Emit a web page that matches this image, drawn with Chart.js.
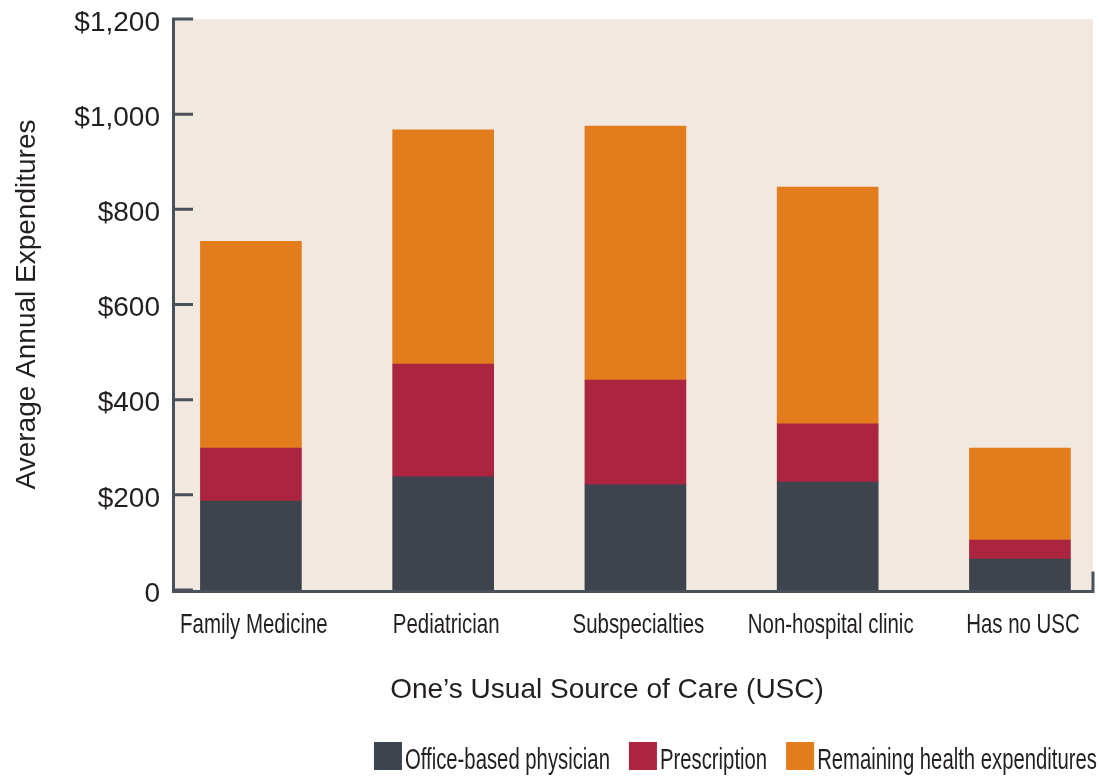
<!DOCTYPE html>
<html>
<head>
<meta charset="utf-8">
<script src="https://cdn.jsdelivr.net/npm/chart.js@4.4.1/dist/chart.umd.min.js"></script>
<style>
  html, body { margin: 0; padding: 0; background: #fff; }
  #wrap { width: 1099px; height: 777px; }
</style>
</head>
<body>
<div id="wrap"><canvas id="chart"></canvas></div>
<script>
// data
const categories = ['Family Medicine', 'Pediatrician', 'Subspecialties', 'Non-hospital clinic', 'Has no USC'];
const officeBased = [187, 238, 221, 227, 65];
const prescription = [111, 237, 220, 122, 40];
const remaining = [435, 492, 534, 498, 193];
const yTicks = [0, 200, 400, 600, 800, 1000, 1200];
const xTitle = 'One’s Usual Source of Care (USC)';

const SANS = '"Liberation Sans", Arial, Helvetica, sans-serif';
const TEXT = '#231f20';
const AXIS = '#4b515b';

function points(values) {
  return values.map((v, i) => ({ x: i, y: v }));
}

// condensed look: draw Liberation Sans squeezed horizontally
function narrowText(ctx, text, x, y, size, squeeze, align) {
  ctx.save();
  ctx.font = size + 'px ' + SANS;
  ctx.fillStyle = TEXT;
  ctx.textAlign = align;
  ctx.textBaseline = 'alphabetic';
  ctx.translate(x, y);
  ctx.scale(squeeze, 1);
  ctx.fillText(text, 0, 0);
  ctx.restore();
}

// plot background, axis lines with inward ticks, category labels, legend
const frame = {
  id: 'frame',
  beforeDraw(chart) {
    const { ctx, chartArea: a } = chart;
    ctx.save();
    ctx.fillStyle = '#f1e9df';
    ctx.fillRect(a.left, a.top, a.right - a.left, a.bottom - a.top);
    ctx.restore();
  },
  afterDatasetsDraw(chart) {
    const { ctx, chartArea: a } = chart;
    const y = chart.scales.y;
    const base = y.getPixelForValue(0) + 1.5;
    ctx.save();
    ctx.strokeStyle = AXIS;
    ctx.lineWidth = 3;
    ctx.beginPath();
    ctx.moveTo(a.left - 0.5, a.top);
    ctx.lineTo(a.left - 0.5, base + 1.5);
    ctx.moveTo(a.left - 2, base);
    ctx.lineTo(a.right + 1.5, base);
    ctx.moveTo(a.right, base);
    ctx.lineTo(a.right, base - 20);
    yTicks.forEach(t => {
      const py = y.getPixelForValue(t);
      ctx.moveTo(a.left - 2, py);
      ctx.lineTo(a.left + 19, py);
    });
    ctx.stroke();
    ctx.restore();
  },
  afterDraw(chart) {
    const { ctx } = chart;
    const x = chart.scales.x;
    const base = chart.scales.y.getPixelForValue(0);
    categories.forEach((c, i) => {
      narrowText(ctx, c, x.getPixelForValue(i) + 3, base + 43, 28, 0.73, 'center');
    });
    narrowText(ctx, xTitle, 607, 698, 28, 1, 'center');

    // legend, right aligned
    const size = 29, squeeze = 0.70, box = 28, gapIn = 3, gapOut = 19;
    ctx.save();
    ctx.font = size + 'px ' + SANS;
    const items = chart.data.datasets.map(ds => ({
      label: ds.label,
      color: ds.backgroundColor,
      w: ctx.measureText(ds.label).width * squeeze
    }));
    ctx.restore();
    const total = items.reduce((s, it) => s + box + gapIn + it.w, 0) + gapOut * (items.length - 1);
    let lx = 1097 - total;
    const boxTop = 742;
    items.forEach(it => {
      ctx.fillStyle = it.color;
      ctx.fillRect(lx, boxTop, box, box);
      narrowText(ctx, it.label, lx + box + gapIn, boxTop + 27, size, squeeze, 'left');
      lx += box + gapIn + it.w + gapOut;
    });
  }
};

const ctx = document.getElementById('chart').getContext('2d');
new Chart(ctx, {
  type: 'bar',
  data: {
    datasets: [
      { label: 'Office-based physician', data: points(officeBased), backgroundColor: '#3d444e' },
      { label: 'Prescription', data: points(prescription), backgroundColor: '#ab2540' },
      { label: 'Remaining health expenditures', data: points(remaining), backgroundColor: '#e27c1c' }
    ]
  },
  options: {
    responsive: true,
    maintainAspectRatio: false,
    animation: false,
    layout: { padding: { top: 19, right: 6, left: 0, bottom: 0 } },
    datasets: { bar: { barThickness: 101 } },
    scales: {
      x: {
        type: 'linear',
        stacked: true,
        offset: false,
        min: -0.4,
        max: 4.38,
        grid: { display: false, drawTicks: false },
        border: { display: false },
        afterBuildTicks(scale) {
          scale.ticks = categories.map((_, i) => ({ value: i }));
        },
        afterFit(scale) {
          scale.height = 187;
          scale.paddingLeft = 0;
          scale.paddingRight = 0;
        },
        ticks: { display: false },
        title: { display: false }
      },
      y: {
        stacked: true,
        min: 0,
        max: 1200,
        grid: { display: false, drawTicks: false },
        border: { display: false },
        afterBuildTicks(scale) {
          scale.ticks = yTicks.map(v => ({ value: v }));
        },
        afterFit(scale) {
          scale.width = 174;
          scale.paddingTop = 0;
          scale.paddingBottom = 0;
        },
        ticks: {
          padding: 14,
          labelOffset: 4,
          color: TEXT,
          font: { family: SANS, size: 28 },
          callback: v => v === 0 ? '0' : '$' + v.toLocaleString('en-US')
        },
        title: {
          display: true,
          text: 'Average Annual Expenditures',
          color: TEXT,
          font: { family: SANS, size: 28 },
          padding: { top: 10, bottom: 0 }
        }
      }
    },
    plugins: {
      legend: { display: false },
      tooltip: { enabled: false }
    }
  },
  plugins: [frame]
});
</script>
</body>
</html>
